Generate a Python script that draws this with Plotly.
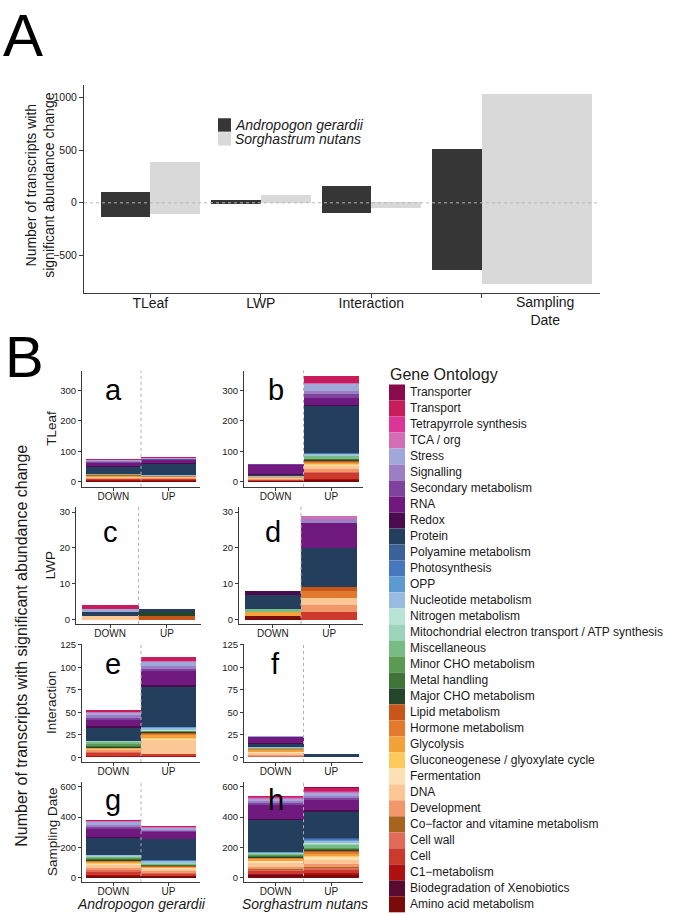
import plotly.graph_objects as go

W, H = 675, 915
FONT = "Liberation Sans, Arial, Helvetica, sans-serif"

# ---------------- Panel A data ----------------
factors = ["TLeaf", "LWP", "Interaction", "Sampling Date"]
factor_labels = ["TLeaf", "LWP", "Interaction", ""]
ag_up = [105, 31, 156, 512]
ag_down = [-134, -9, -94, -640]
sn_up = [391, 78, 4, 1030]
sn_down = [-110, -3, -47, -770]
species = ["Andropogon gerardii", "Sorghastrum nutans"]
species_colors = ["#363636", "#d9d9d9"]
a_ticks = [-500, 0, 500, 1000]
a_ticktext = ["\u2212500", "0", "500", "1000"]

# ---------------- Panel B data ----------------
directions = ["DOWN", "UP"]
row_names = ["TLeaf", "LWP", "Interaction", "Sampling Date"]
categories = [
    "Transporter", "Transport", "Tetrapyrrole synthesis", "TCA / org", "Stress",
    "Signalling", "Secondary metabolism", "RNA", "Redox", "Protein",
    "Polyamine metabolism", "Photosynthesis", "OPP", "Nucleotide metabolism",
    "Nitrogen metabolism", "Mitochondrial electron transport / ATP synthesis",
    "Miscellaneous", "Minor CHO metabolism", "Metal handling", "Major CHO metabolism",
    "Lipid metabolism", "Hormone metabolism", "Glycolysis",
    "Gluconeogenese / glyoxylate cycle", "Fermentation", "DNA", "Development",
    "Co\u2212factor and vitamine metabolism", "Cell wall", "Cell", "C1\u2212metabolism",
    "Biodegradation of Xenobiotics", "Amino acid metabolism",
]
go_colors = [
    "#8a0b4c", "#c81c5b", "#dc3497", "#d26db6", "#9fa8d8",
    "#9b7fc2", "#7f439f", "#701a80", "#4a0b4f", "#243e5e",
    "#3a6298", "#4578bc", "#5c9bd2", "#9abbe1",
    "#b7e4d4", "#9bd4ba",
    "#79bb84", "#5a9a51", "#3f7438", "#24452a",
    "#c8561a", "#e17a2d", "#f2a13b",
    "#fdca5b", "#fde1b4", "#fdc795", "#f2976a",
    "#a8641f", "#e06b59", "#cc3a2e", "#b0100f",
    "#5b0a30", "#7b0a0a",
]

# values in the same order as `categories`
a_down = [1, 2, 0, 1, 3, 2, 3, 10, 3, 24, 0, 0, 0, 1, 0, 0, 2, 1, 1, 0, 1, 1, 2, 0, 2, 4, 2, 0, 1, 3, 2, 0, 2]
a_up = [0, 2, 0, 1, 2, 2, 2, 9, 4, 38, 0, 0, 0, 1, 0, 0, 0, 1, 0, 0, 1, 1, 1, 0, 1, 3, 2, 1, 1, 2, 2, 1, 2]
b_down = [0, 1, 0, 0, 0, 1, 2, 30, 2, 6, 0, 0, 0, 1, 0, 0, 1, 0, 0, 0, 0, 1, 1, 0, 3, 3, 2, 0, 1, 2, 1, 0, 1]
b_up = [2, 20, 2, 3, 22, 12, 12, 22, 5, 155, 1, 1, 2, 3, 1, 2, 8, 3, 2, 2, 3, 4, 4, 2, 5, 10, 8, 2, 4, 18, 4, 1, 4]
c_down = [0, 1, 0, 0, 1, 0, 0, 0, 0, 1, 0, 0, 0, 0, 0, 0, 0, 0, 0, 0, 0, 0, 0, 0, 0, 1, 0, 0, 0, 0, 0, 0, 0]
c_up = [0, 0, 0, 0, 0, 0, 0, 0, 0, 1, 0, 0, 0, 0, 0, 0, 0, 0, 0, 1, 1, 0, 0, 0, 0, 0, 0, 0, 0, 0, 0, 0, 0]
d_down = [0, 0, 0, 0, 0, 0, 0, 0, 1, 4, 0, 0, 0, 0, 0, 0, 1, 0, 0, 0, 0, 0, 1, 0, 0, 0, 0, 0, 0, 0, 0, 0, 1]
d_up = [0, 0, 0, 1, 0, 1, 0, 7, 0, 11, 0, 0, 0, 0, 0, 0, 0, 0, 0, 0, 1, 2, 0, 0, 0, 2, 2, 0, 0, 2, 0, 0, 0]
e_down = [0, 3, 0, 1, 2, 3, 2, 7, 2, 15, 0, 0, 0, 0, 0, 1, 2, 2, 1, 1, 0, 0, 2, 0, 0, 1, 2, 0, 1, 3, 1, 0, 1]
e_up = [1, 4, 0, 1, 5, 3, 2, 16, 2, 44, 0, 0, 1, 3, 1, 0, 0, 1, 0, 1, 1, 1, 3, 1, 2, 15, 0, 0, 0, 2, 1, 0, 1]
f_down = [0, 0, 0, 0, 1, 0, 0, 7, 1, 3, 0, 0, 0, 1, 1, 0, 1, 0, 0, 0, 0, 1, 2, 0, 1, 2, 1, 0, 1, 1, 0, 0, 0]
f_up = [0, 0, 0, 0, 0, 0, 0, 0, 0, 3, 0, 0, 1, 0, 0, 0, 0, 0, 0, 0, 0, 0, 0, 0, 0, 0, 0, 0, 0, 0, 0, 0, 0]
g_down = [2, 8, 2, 4, 20, 12, 15, 50, 6, 113, 1, 1, 1, 3, 2, 4, 10, 8, 3, 5, 5, 5, 8, 2, 8, 20, 12, 5, 10, 20, 5, 3, 10]
g_up = [2, 8, 2, 3, 12, 10, 8, 40, 6, 133, 4, 3, 4, 8, 3, 4, 7, 5, 2, 4, 3, 4, 5, 2, 6, 14, 8, 3, 5, 12, 3, 2, 8]
h_down = [2, 10, 3, 5, 18, 14, 12, 88, 10, 213, 0, 0, 1, 3, 3, 5, 8, 4, 4, 6, 5, 8, 10, 3, 12, 25, 14, 5, 8, 22, 5, 4, 12]
h_up = [5, 22, 6, 8, 14, 14, 18, 66, 12, 170, 5, 6, 10, 12, 6, 8, 20, 8, 6, 6, 8, 10, 14, 4, 20, 30, 16, 6, 14, 25, 8, 5, 15]

panel_letters = ["a", "b", "c", "d", "e", "f", "g", "h"]
panel_values = [(a_down, a_up), (b_down, b_up), (c_down, c_up), (d_down, d_up),
                (e_down, e_up), (f_down, f_up), (g_down, g_up), (h_down, h_up)]
row_ticks = [[0, 100, 200, 300], [0, 10, 20, 30], [0, 25, 50, 75, 100, 125], [0, 200, 400, 600]]

# ---------------- geometry (pixels) ----------------
def fx(p):
    return p / W

def fy(p):
    return 1 - p / H

rows_px = [(368, 485), (505, 623), (643, 762), (782, 883)]
cols_px = [[(82, 200), (244, 363)], [(76, 201), (239, 363)],
           [(82, 200), (244, 363)], [(82, 200), (244, 363)]]
x_ranges = [[-0.57, 1.57], [-0.6, 1.6], [-0.57, 1.57], [-0.57, 1.57]]
y_ranges = [[-17.5, 366.5], [-1.2, 31.5], [-5, 126.2], [-30, 632]]
letter_y = [388, 530, 663, 800]
sn_widths = [0.45, 0.45, 0.45, 1.0]

AX = "#3a3a3a"
axis_common = dict(showline=True, linecolor=AX, linewidth=1, ticks="outside", ticklen=3,
                   tickcolor=AX, tickwidth=1, showgrid=False, zeroline=False, fixedrange=True)

fig = go.Figure()
layout = dict(width=W, height=H, margin=dict(l=0, r=0, t=0, b=0), autosize=False,
              paper_bgcolor="white", plot_bgcolor="white", barmode="relative", bargap=0,
              showlegend=False, font=dict(family=FONT, color="#1a1a1a"))
shapes = []
annotations = []

# ---------------- Panel A ----------------
layout["xaxis"] = dict(axis_common, domain=[fx(84), fx(600)], anchor="y", type="category",
                       categoryorder="array", categoryarray=factors, range=[-0.6, 4.07],
                       tickmode="array", tickvals=factors, ticktext=factor_labels, ticklen=4,
                       ticklabelstandoff=-7, tickfont=dict(size=14, color="#1a1a1a"))
layout["xaxis2"] = dict(overlaying="x", matches="x", anchor="y", visible=False, type="category",
                        categoryorder="array", categoryarray=factors)
layout["yaxis"] = dict(axis_common, domain=[fy(290), fy(81)], anchor="x", range=[-858, 1115],
                       tickvals=a_ticks, ticktext=a_ticktext, ticklen=4,
                       tickfont=dict(size=10.5, color="#1a1a1a"))

for vals, col, ax, off, wd in [(ag_up, species_colors[0], "x", -0.45, 0.45),
                               (ag_down, species_colors[0], "x", -0.45, 0.45),
                               (sn_up, species_colors[1], "x2", 0.0, sn_widths),
                               (sn_down, species_colors[1], "x2", 0.0, sn_widths)]:
    fig.add_trace(go.Bar(x=factors, y=vals, width=wd, offset=off, marker=dict(color=col, line=dict(width=0)),
                         xaxis=ax, yaxis="y", hoverinfo="skip"))

shapes.append(dict(type="line", xref="x domain", yref="y", x0=0, x1=1, y0=0, y1=0,
                   line=dict(color="#b5b5b5", width=1, dash="dot"), layer="above"))

annotations.append(dict(text="Sampling<br>Date", xref="paper", yref="paper", x=fx(545), y=fy(308),
                        showarrow=False, xanchor="center", yanchor="middle",
                        font=dict(size=14, family=FONT, color="#1a1a1a")))

# Panel A legend
for i, (name, col) in enumerate(zip(species, species_colors)):
    top = 114 + i * 14
    shapes.append(dict(type="rect", xref="paper", yref="paper", x0=fx(218), x1=fx(231),
                       y0=fy(top + 13.5), y1=fy(top), fillcolor=col, line=dict(width=0)))
    annotations.append(dict(text="<i>" + name + "</i>", xref="paper", yref="paper", x=fx(233), y=fy(top + 7),
                            xanchor="left", yanchor="middle", showarrow=False,
                            font=dict(size=14, family=FONT, color="#1a1a1a")))

annotations.append(dict(text="Number of transcripts with<br>significant abundance change", xref="paper",
                        yref="paper", x=fx(40), y=fy(182), textangle=-90, showarrow=False,
                        xanchor="center", yanchor="middle", font=dict(size=14, family=FONT, color="#1a1a1a")))
annotations.append(dict(text="A", xref="paper", yref="paper", x=fx(23), y=fy(31), showarrow=False,
                        xanchor="center", yanchor="middle", font=dict(size=60, family=FONT, color="black")))
annotations.append(dict(text="B", xref="paper", yref="paper", x=fx(24), y=fy(354), showarrow=False,
                        xanchor="center", yanchor="middle", font=dict(size=58, family=FONT, color="black")))

# ---------------- Panel B ----------------
for p, (letter, (down, up)) in enumerate(zip(panel_letters, panel_values)):
    r, c = divmod(p, 2)
    n = p + 3
    xa, ya = "x%d" % n, "y%d" % n
    x0, x1 = cols_px[r][c]
    y0, y1 = rows_px[r]
    layout["xaxis%d" % n] = dict(axis_common, domain=[fx(x0), fx(x1)], anchor=ya, type="category",
                                 categoryorder="array", categoryarray=directions, range=x_ranges[r],
                                 ticklabelstandoff=-3, tickfont=dict(size=10, color="#1a1a1a"))
    layout["yaxis%d" % n] = dict(axis_common, domain=[fy(y1), fy(y0)], anchor=xa, range=y_ranges[r],
                                 tickvals=row_ticks[r], tickfont=dict(size=9.5, color="#1a1a1a"))
    for i in range(len(categories) - 1, -1, -1):
        fig.add_trace(go.Bar(x=directions, y=[down[i], up[i]], name=categories[i],
                             marker=dict(color=go_colors[i], line=dict(width=0)),
                             xaxis=xa, yaxis=ya, hoverinfo="skip"))
    shapes.append(dict(type="line", xref=xa, yref=ya + " domain", x0=0.5, x1=0.5, y0=0, y1=1,
                       line=dict(color="#b0b0b0", width=1, dash="dot"), layer="above"))
    annotations.append(dict(text=letter, xref=xa, yref="paper", x=0, y=fy(letter_y[r]), showarrow=False,
                            xanchor="center", yanchor="middle", font=dict(size=29, family=FONT, color="black")))

for r, name in enumerate(row_names):
    y0, y1 = rows_px[r]
    annotations.append(dict(text=name, xref="paper", yref="paper", x=fx(52 if r != 1 else 50),
                            y=fy((y0 + y1) / 2), textangle=-90, showarrow=False,
                            xanchor="center", yanchor="middle", font=dict(size=13.5, family=FONT, color="#1a1a1a")))

annotations.append(dict(text="Number of transcripts with significant abundance change", xref="paper",
                        yref="paper", x=fx(22), y=fy(645), textangle=-90, showarrow=False,
                        xanchor="center", yanchor="middle", font=dict(size=16, family=FONT, color="#1a1a1a")))
annotations.append(dict(text="<i>Andropogon gerardii</i>", xref="paper", yref="paper", x=fx(141), y=fy(905),
                        showarrow=False, xanchor="center", yanchor="middle",
                        font=dict(size=14, family=FONT, color="#1a1a1a")))
annotations.append(dict(text="<i>Sorghastrum nutans</i>", xref="paper", yref="paper", x=fx(305), y=fy(905),
                        showarrow=False, xanchor="center", yanchor="middle",
                        font=dict(size=14, family=FONT, color="#1a1a1a")))

# Gene Ontology legend
annotations.append(dict(text="Gene Ontology", xref="paper", yref="paper", x=fx(388), y=fy(372),
                        showarrow=False, xanchor="left", yanchor="middle",
                        font=dict(size=16, family=FONT, color="#1a1a1a")))
step = 16.1
for i, (name, col) in enumerate(zip(categories, go_colors)):
    top = 382 + i * step
    shapes.append(dict(type="rect", xref="paper", yref="paper", x0=fx(389), x1=fx(405),
                       y0=fy(top + step), y1=fy(top), fillcolor=col, line=dict(width=0)))
    annotations.append(dict(text=name, xref="paper", yref="paper", x=fx(407.5), y=fy(top + step / 2),
                            showarrow=False, xanchor="left", yanchor="middle",
                            font=dict(size=12, family=FONT, color="#1a1a1a")))

layout["shapes"] = shapes
layout["annotations"] = annotations
fig.update_layout(**layout)
fig.write_html("out.html", config={"displayModeBar": False, "staticPlot": True},
               post_script="document.body.style.margin='0';document.body.style.overflow='hidden';")
